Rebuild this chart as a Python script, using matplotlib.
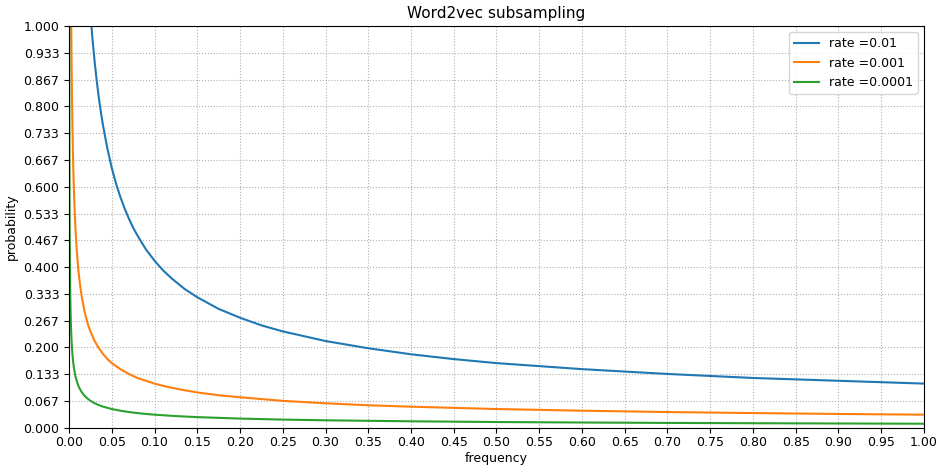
import matplotlib
matplotlib.use('Agg')
import matplotlib.pyplot as plt
import numpy as np

rate_labels = ['rate =0.01', 'rate =0.001', 'rate =0.0001']

# rate = 0.01
freq_001 = [0.0225, 0.025, 0.0275, 0.03, 0.0325, 0.035, 0.0375, 0.04, 0.045, 0.05,
            0.055, 0.06, 0.065, 0.07, 0.075, 0.08, 0.09, 0.1, 0.11, 0.12,
            0.135, 0.15, 0.175, 0.2, 0.225, 0.25, 0.3, 0.35, 0.4, 0.45,
            0.5, 0.6, 0.7, 0.8, 0.9, 1.0]
prob_001 = [1.111, 1.032, 0.967, 0.911, 0.862, 0.820, 0.783, 0.750, 0.694, 0.647,
            0.608, 0.575, 0.546, 0.521, 0.498, 0.479, 0.444, 0.416, 0.392, 0.372,
            0.346, 0.325, 0.296, 0.274, 0.255, 0.240, 0.216, 0.198, 0.183, 0.171,
            0.161, 0.146, 0.134, 0.124, 0.117, 0.110]

# rate = 0.001
freq_0001 = [0.00225, 0.0025, 0.00275, 0.003, 0.00325, 0.0035, 0.00375, 0.004, 0.0045, 0.005,
             0.0055, 0.006, 0.0065, 0.007, 0.0075, 0.008, 0.009, 0.01, 0.011, 0.012,
             0.0135, 0.015, 0.0175, 0.02, 0.0225, 0.025, 0.03, 0.035, 0.04, 0.045,
             0.05, 0.06, 0.07, 0.08, 0.09, 0.1,
             0.11, 0.12, 0.135, 0.15, 0.175, 0.2, 0.25, 0.3, 0.35, 0.4,
             0.5, 0.6, 0.7, 0.8, 0.9, 1.0]
prob_0001 = [1.111, 1.032, 0.967, 0.911, 0.862, 0.820, 0.783, 0.750, 0.694, 0.647,
             0.608, 0.575, 0.546, 0.521, 0.498, 0.479, 0.444, 0.416, 0.392, 0.372,
             0.346, 0.325, 0.296, 0.274, 0.255, 0.240, 0.216, 0.198, 0.183, 0.171,
             0.161, 0.146, 0.134, 0.124, 0.117, 0.110,
             0.1044, 0.0996, 0.0935, 0.088, 0.081, 0.076, 0.067, 0.061, 0.056, 0.0525,
             0.0467, 0.0425, 0.0392, 0.0366, 0.0344, 0.0326]

# rate = 0.0001
freq_00001 = [0.000225, 0.00025, 0.000275, 0.0003, 0.000325, 0.00035, 0.000375, 0.0004, 0.00045, 0.0005,
              0.00055, 0.0006, 0.00065, 0.0007, 0.00075, 0.0008, 0.0009, 0.001, 0.0011, 0.0012,
              0.00135, 0.0015, 0.00175, 0.002, 0.00225, 0.0025, 0.003, 0.0035, 0.004, 0.0045,
              0.005, 0.006, 0.007, 0.008, 0.009, 0.01,
              0.011, 0.012, 0.0135, 0.015, 0.0175, 0.02, 0.025, 0.03, 0.035, 0.04,
              0.05, 0.06, 0.07, 0.08, 0.09, 0.1, 0.125, 0.15, 0.2, 0.25,
              0.3, 0.4, 0.5, 0.6, 0.7, 0.8, 0.9, 1.0]
prob_00001 = [1.111, 1.032, 0.967, 0.911, 0.862, 0.820, 0.783, 0.750, 0.694, 0.647,
              0.608, 0.575, 0.546, 0.521, 0.498, 0.479, 0.444, 0.416, 0.392, 0.372,
              0.346, 0.325, 0.296, 0.274, 0.255, 0.240, 0.216, 0.198, 0.183, 0.171,
              0.161, 0.146, 0.134, 0.124, 0.117, 0.110,
              0.1044, 0.0996, 0.0935, 0.0883, 0.0813, 0.0757, 0.0672, 0.0611, 0.0563, 0.0525,
              0.0467, 0.0425, 0.0392, 0.0366, 0.0344, 0.0326, 0.0291, 0.0265, 0.0229, 0.0204,
              0.0186, 0.0161, 0.0143, 0.0131, 0.0121, 0.0113, 0.0107, 0.0101]

plt.rcParams['font.size'] = 9

fig = plt.figure(figsize=(9.39, 4.67), dpi=100)
ax = fig.add_axes([0.0735, 0.084, 0.9105, 0.86])

series = [(freq_001, prob_001), (freq_0001, prob_0001), (freq_00001, prob_00001)]
for (freq, probs), label in zip(series, rate_labels):
    ax.plot(freq, probs, label=label, linewidth=1.5)

ax.set_xlim(0, 1)
ax.set_ylim(0, 1)
ax.set_xticks(np.linspace(0, 1, 21))
ax.set_yticks(np.linspace(0, 1, 16))
ax.xaxis.set_major_formatter(matplotlib.ticker.FormatStrFormatter('%.2f'))
ax.yaxis.set_major_formatter(matplotlib.ticker.FormatStrFormatter('%.3f'))
ax.tick_params(axis='x', pad=2.5)
ax.grid(True, linestyle=':', color='#b0b0b0', linewidth=0.8)

ax.set_title('Word2vec subsampling', fontsize=11)
ax.set_xlabel('frequency', labelpad=2)
ax.set_ylabel('probability')
ax.legend(loc='upper right')

fig.savefig('out.png', dpi=100)
